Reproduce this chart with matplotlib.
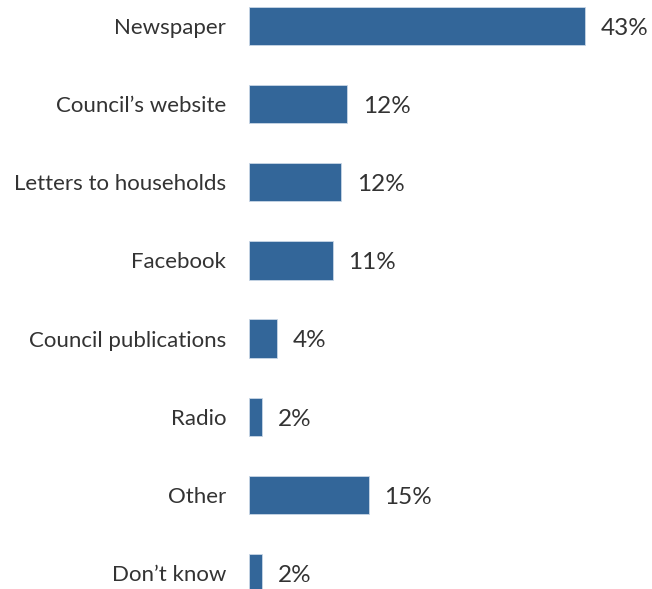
import matplotlib
matplotlib.use("Agg")
import matplotlib.pyplot as plt

categories = ["Newspaper", "Council\u2019s website", "Letters to households", "Facebook",
              "Council publications", "Radio", "Other", "Don\u2019t know"]
# bar lengths (%)
values = [43, 12.6, 11.8, 10.7, 3.6, 1.7, 15.3, 1.7]
value_labels = ["43%", "12%", "12%", "11%", "4%", "2%", "15%", "2%"]

bar_color = "#336699"
text_color = "#333333"

plt.rcParams["font.family"] = ["Lato", "DejaVu Sans"]

fig = plt.figure(figsize=(6.52, 5.89), dpi=100)
ax = fig.add_axes([0.382, 0.0, 0.599, 1.0])

ypos = list(range(len(categories)))
ax.barh(ypos, values, height=0.49, color=bar_color, edgecolor="#c9d6e6", linewidth=0.6)

for y, v, lab in zip(ypos, values, value_labels):
    ax.text(v + 2.0, y + 0.03, lab, va="center", ha="left", fontsize=17.5, color=text_color)

ax.set_yticks(ypos)
ax.set_yticklabels(categories, fontsize=16, color=text_color)
ax.tick_params(axis="y", length=0, pad=16.5)
ax.set_xticks([])
ax.set_xlim(0, 50)
ax.set_ylim(7.205, -0.333)
for s in ax.spines.values():
    s.set_visible(False)

fig.savefig("out.png", dpi=100)
